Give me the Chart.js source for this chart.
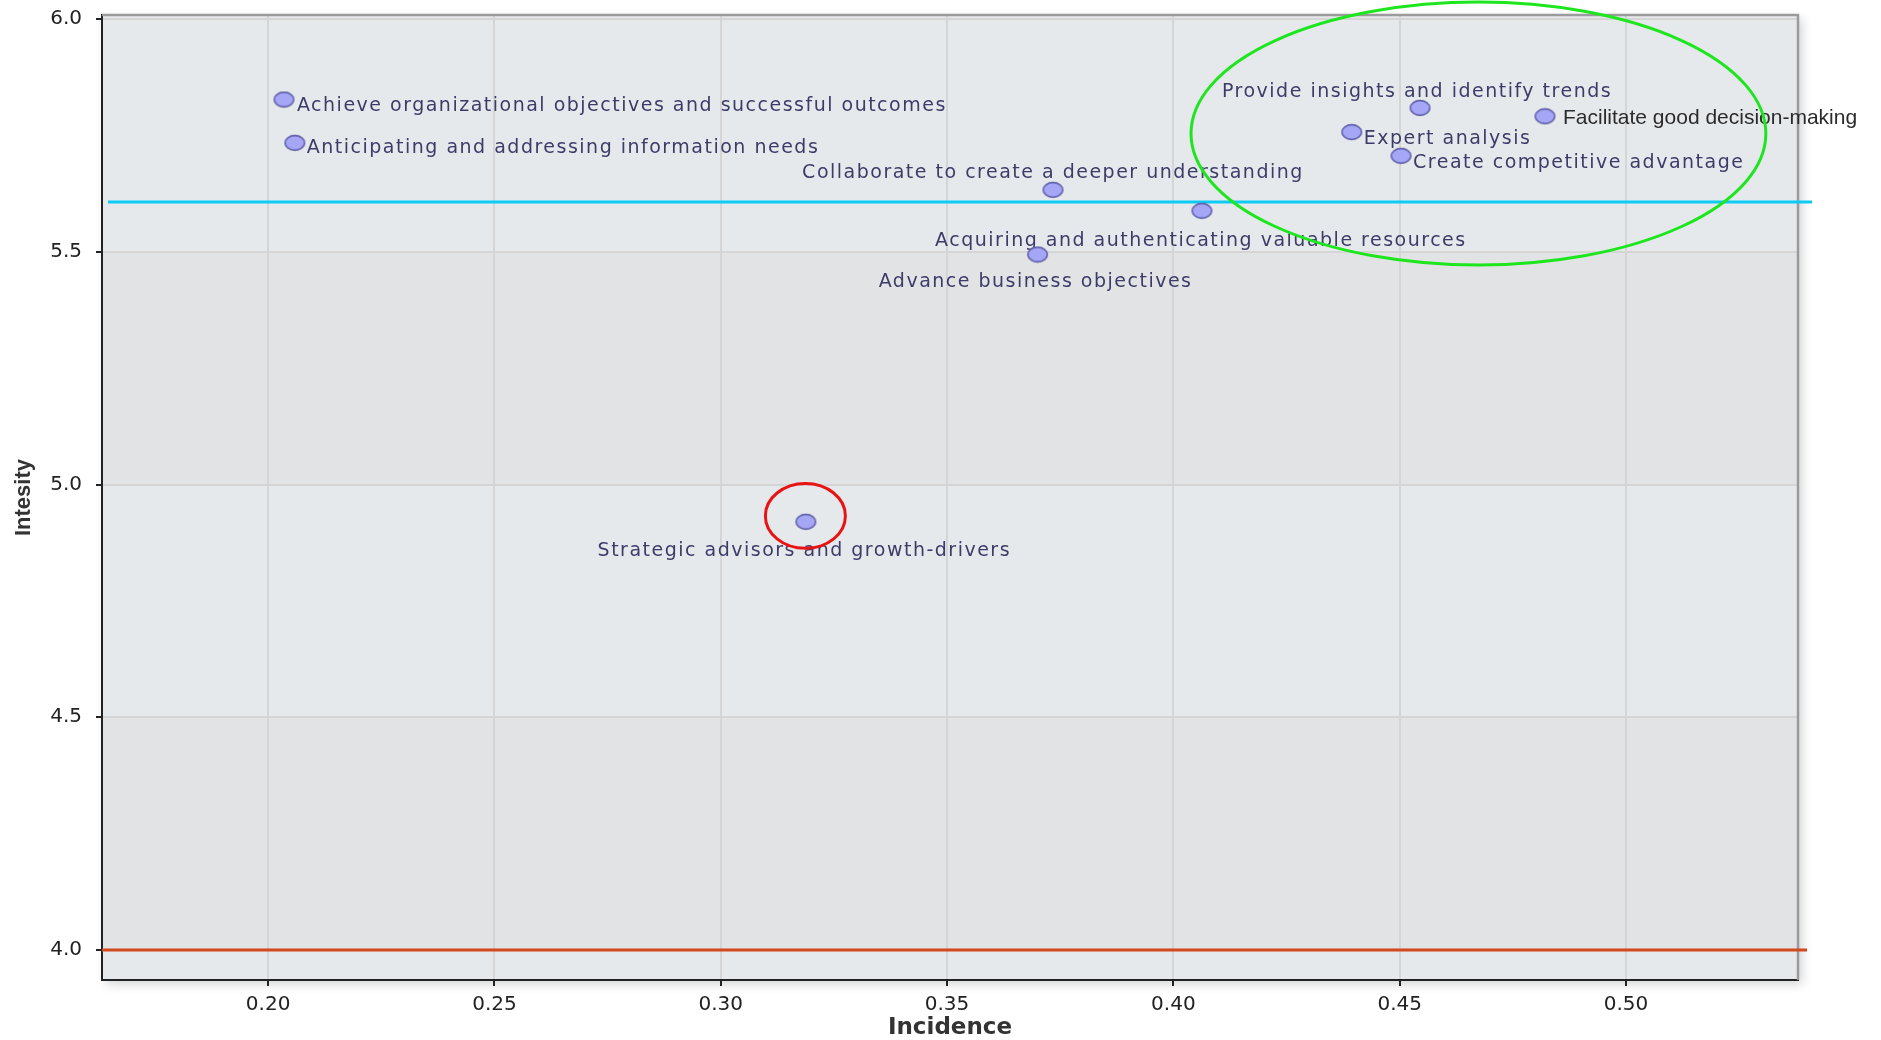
<!DOCTYPE html>
<html>
<head>
<meta charset="utf-8">
<script src="https://cdn.jsdelivr.net/npm/chart.js@4.4.1/dist/chart.umd.min.js"></script>
<style>
  html, body { margin: 0; padding: 0; background: #fff; }
  #wrap { width: 1881px; height: 1040px; }
</style>
</head>
<body>
<div id="wrap"><canvas id="chart" width="1881" height="1040"></canvas></div>
<script>
// values
const labels = [
  "Achieve organizational objectives and successful outcomes",
  "Anticipating and addressing information needs",
  "Collaborate to create a deeper understanding",
  "Acquiring and authenticating valuable resources",
  "Advance business objectives",
  "Strategic advisors and growth-drivers",
  "Provide insights and identify trends",
  "Facilitate good decision-making",
  "Expert analysis",
  "Create competitive advantage"
];
const incidence = [0.2035, 0.2059, 0.3734, 0.4063, 0.3700, 0.3188, 0.4545, 0.4821, 0.4394, 0.4503];
const intensity = [5.827, 5.734, 5.633, 5.588, 5.494, 4.920, 5.809, 5.791, 5.757, 5.706];

const xTicks = [0.20, 0.25, 0.30, 0.35, 0.40, 0.45, 0.50];
const yTicks = [4.0, 4.5, 5.0, 5.5, 6.0];

// horizontal reference lines
const refValues = [5.607, 4.0];
const refColors = ["#0ccbf5", "#d2491c"];

// highlight rings: [centre x, centre y, radius x, radius y] in data units
const greenRing = [0.4674, 5.754, 0.0635, 0.2825];
const redRing = [0.3187, 4.9326, 0.00884, 0.0696];

// where each label sits relative to its point (align, dx px, dy px)
const labelPlace = [
  ["left", 13, 6.5],
  ["left", 12, 5],
  ["center", 0, -16.5],
  ["center", -1, 30.5],
  ["center", -2, 27.5],
  ["center", -1.5, 29.5],
  ["center", -3, -15.5],
  ["left", 18, 1.5],
  ["left", 12, 6.5],
  ["left", 12, 7.5]
];

// oval marker like the original
const dot = document.createElement("canvas");
dot.width = 23;
dot.height = 18;
const dc = dot.getContext("2d");
dc.beginPath();
dc.ellipse(11.5, 9, 9.8, 7.4, 0, 0, Math.PI * 2);
dc.fillStyle = "#a6a6f7";
dc.fill();
dc.lineWidth = 1.6;
dc.strokeStyle = "#6262aa";
dc.stroke();

const decor = {
  id: "decor",
  beforeDraw(chart) {
    const { ctx, chartArea: a, scales: { y } } = chart;
    ctx.save();
    ctx.shadowColor = "rgba(0,0,0,0.18)";
    ctx.shadowBlur = 10;
    ctx.shadowOffsetX = 4;
    ctx.shadowOffsetY = 4;
    ctx.fillStyle = "#e6e9ec";
    ctx.fillRect(a.left, a.top, a.width, a.height);
    ctx.restore();

    ctx.save();
    ctx.fillStyle = "#e2e3e5";
    for (let i = 0; i < yTicks.length - 1; i += 2) {
      const t = y.getPixelForValue(yTicks[i + 1]);
      const b = y.getPixelForValue(yTicks[i]);
      ctx.fillRect(a.left, t, a.width, b - t);
    }
    ctx.restore();
  },
  beforeDatasetsDraw(chart) {
    const { ctx, chartArea: a, scales: { x, y } } = chart;
    ctx.save();
    // top and right frame
    ctx.strokeStyle = "#9b9b9b";
    ctx.lineWidth = 2.5;
    ctx.beginPath();
    ctx.moveTo(a.left, a.top);
    ctx.lineTo(a.right, a.top);
    ctx.lineTo(a.right, a.bottom);
    ctx.stroke();

    // reference lines
    ctx.lineWidth = 3;
    refValues.forEach((v, i) => {
      const py = y.getPixelForValue(v);
      ctx.strokeStyle = refColors[i];
      ctx.beginPath();
      ctx.moveTo(a.left + (i === 0 ? 6 : 0), py);
      ctx.lineTo(a.right + (i === 0 ? 14 : 9), py);
      ctx.stroke();
    });

    // point labels
    ctx.textBaseline = "middle";
    labels.forEach((txt, i) => {
      const [align, dx, dy] = labelPlace[i];
      const px = x.getPixelForValue(incidence[i]);
      const py = y.getPixelForValue(intensity[i]);
      if (i === 7) {
        ctx.font = "21px 'Liberation Sans'";
        ctx.letterSpacing = "0px";
        ctx.fillStyle = "#2b2b2b";
      } else {
        ctx.font = "19px 'DejaVu Sans'";
        ctx.letterSpacing = "1.5px";
        ctx.fillStyle = "#3c3c68";
      }
      ctx.textAlign = align;
      ctx.fillText(txt, px + dx, py + dy);
    });
    ctx.restore();
  },
  afterDatasetsDraw(chart) {
    const { ctx, scales: { x, y } } = chart;
    const ring = (r, color) => {
      const cx = x.getPixelForValue(r[0]);
      const cy = y.getPixelForValue(r[1]);
      const rx = Math.abs(x.getPixelForValue(r[0] + r[2]) - cx);
      const ry = Math.abs(y.getPixelForValue(r[1] + r[3]) - cy);
      ctx.beginPath();
      ctx.ellipse(cx, cy, rx, ry, 0, 0, Math.PI * 2);
      ctx.strokeStyle = color;
      ctx.lineWidth = 3;
      ctx.stroke();
    };
    ctx.save();
    ring(greenRing, "#1ee61e");
    ring(redRing, "#e81414");
    ctx.restore();
  }
};

new Chart(document.getElementById("chart"), {
  type: "scatter",
  data: {
    datasets: [{
      data: incidence.map((v, i) => ({ x: v, y: intensity[i] })),
      pointStyle: dot,
      pointRadius: 9,
      clip: false
    }]
  },
  options: {
    responsive: false,
    devicePixelRatio: 1,
    animation: false,
    layout: { padding: { top: 15, right: 83, left: 0, bottom: 0 } },
    plugins: { legend: { display: false }, tooltip: { enabled: false } },
    scales: {
      x: {
        type: "linear",
        min: 0.1633,
        max: 0.538,
        afterBuildTicks: (s) => { s.ticks = xTicks.map(v => ({ value: v })); },
        afterFit: (s) => { s.height = 60; s.paddingLeft = 0; s.paddingRight = 0; },
        ticks: {
          callback: (v) => v.toFixed(2),
          font: { family: "DejaVu Sans", size: 20 },
          color: "#222",
          padding: 7,
          maxRotation: 0
        },
        grid: { color: "#d5d5d5", lineWidth: 2, tickLength: 6, tickColor: "#222", tickWidth: 2 },
        border: { color: "#222", width: 2 },
        title: {
          display: true,
          text: "Incidence",
          font: { family: "DejaVu Sans", size: 23, weight: "bold", lineHeight: 1.05 },
          color: "#333",
          padding: { top: 0, bottom: 0 }
        }
      },
      y: {
        type: "linear",
        min: 3.9356,
        max: 6.0086,
        afterBuildTicks: (s) => { s.ticks = yTicks.map(v => ({ value: v })); },
        afterFit: (s) => { s.width = 102; s.paddingTop = 0; s.paddingBottom = 0; },
        ticks: {
          callback: (v) => v.toFixed(1),
          font: { family: "DejaVu Sans", size: 20 },
          color: "#222",
          padding: 14
        },
        grid: { color: "#d5d5d5", lineWidth: 2, tickLength: 6, tickColor: "#222", tickWidth: 2 },
        border: { color: "#222", width: 2 },
        title: {
          display: true,
          text: "Intesity",
          font: { family: "Liberation Sans", size: 22, weight: "bold" },
          color: "#333",
          padding: { top: 11, bottom: 0 }
        }
      }
    }
  },
  plugins: [decor]
});
</script>
</body>
</html>
